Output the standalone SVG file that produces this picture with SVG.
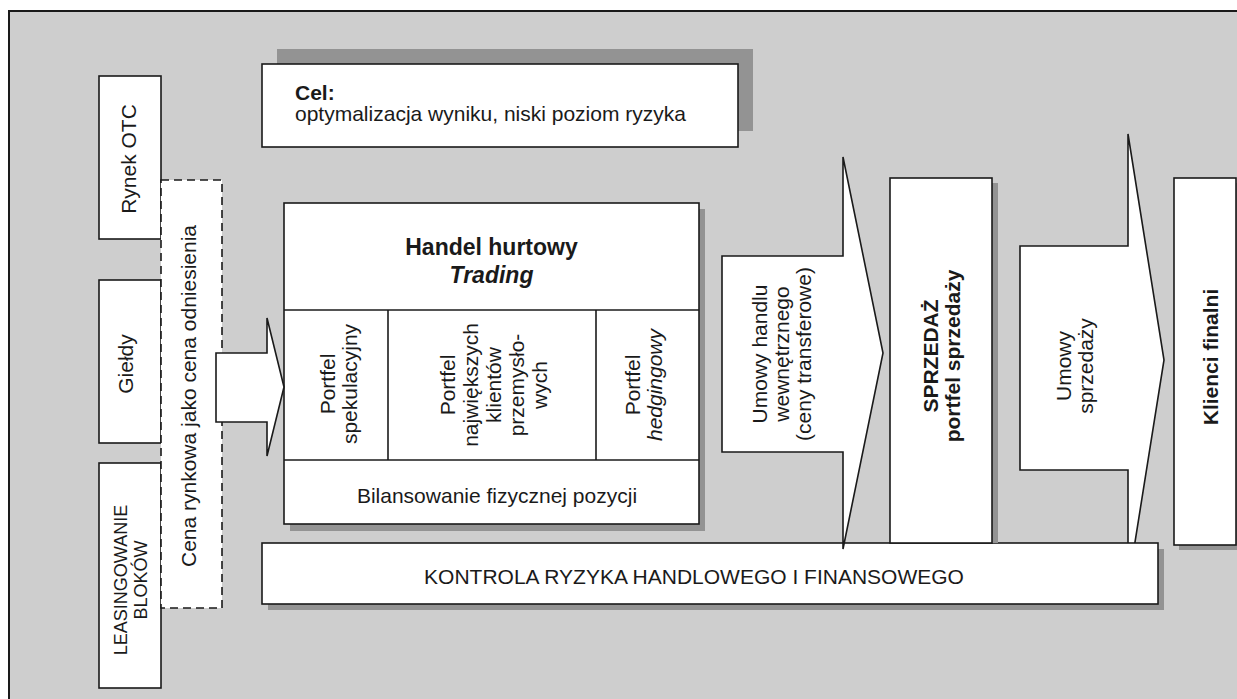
<svg xmlns="http://www.w3.org/2000/svg" width="1237" height="699" viewBox="0 0 1237 699">
<style>
.box{fill:#fff;stroke:#1a1a1a;stroke-width:1.6}
.sh{fill:#939393}
.dash{fill:#fff;stroke:#1a1a1a;stroke-width:1.6;stroke-dasharray:8 5}
.arr{fill:#fff;stroke:#1a1a1a;stroke-width:1.6;stroke-linejoin:miter}
text{font-family:"Liberation Sans",Arial,sans-serif;font-size:21px;fill:#1a1a1a}
.b{font-weight:bold}
.c{text-anchor:middle}
</style>
<rect x="9" y="11" width="1240" height="700" fill="#cecece" stroke="#1a1a1a" stroke-width="2"/>

<g id="rynek-otc">
<rect class="box" x="99" y="76" width="62" height="163"/>
<text class="c" transform="translate(136,159) rotate(-90)">Rynek OTC</text>
</g>
<g id="gieldy">
<rect class="box" x="99" y="280" width="62" height="163"/>
<text class="c" transform="translate(133,364) rotate(-90)">Giełdy</text>
</g>
<g id="leasing">
<rect class="box" x="99" y="463" width="62" height="225"/>
<text class="c" style="font-size:18px" transform="translate(127,580) rotate(-90)"><tspan x="0">LEASINGOWANIE</tspan><tspan x="0" dy="20">BLOKÓW</tspan></text>
</g>
<g id="cena">
<rect class="dash" x="161" y="180" width="61" height="428"/>
<text class="c" transform="translate(196,396) rotate(-90)">Cena rynkowa jako cena odniesienia</text>
</g>

<g id="cel">
<rect class="sh" x="277" y="49" width="476" height="82"/>
<rect class="box" x="262" y="64" width="476" height="83"/>
<text class="b" x="295" y="100">Cel:</text>
<text x="295" y="121">optymalizacja wyniku, niski poziom ryzyka</text>
</g>

<g id="handel">
<rect class="sh" x="290" y="209" width="415" height="322"/>
<rect class="box" x="284" y="203" width="415" height="321"/>
<line x1="284" y1="310" x2="699" y2="310" stroke="#1a1a1a" stroke-width="1.6"/>
<line x1="284" y1="460" x2="699" y2="460" stroke="#1a1a1a" stroke-width="1.6"/>
<line x1="388" y1="310" x2="388" y2="460" stroke="#1a1a1a" stroke-width="1.6"/>
<line x1="596" y1="310" x2="596" y2="460" stroke="#1a1a1a" stroke-width="1.6"/>
<text class="b c" style="font-size:23px" x="491.5" y="255">Handel hurtowy</text>
<text class="b c" style="font-size:23px;font-style:italic" x="491.5" y="283">Trading</text>
<text class="c" transform="translate(335,384) rotate(-90)"><tspan x="0">Portfel</tspan><tspan x="0" dy="22">spekulacyjny</tspan></text>
<text class="c" transform="translate(455,385) rotate(-90)"><tspan x="0">Portfel</tspan><tspan x="0" dy="23">największych</tspan><tspan x="0" dy="23">klientów</tspan><tspan x="0" dy="23">przemysło-</tspan><tspan x="0" dy="23">wych</tspan></text>
<text class="c" transform="translate(640,385) rotate(-90)"><tspan x="0">Portfel</tspan><tspan x="0" dy="22" font-style="italic">hedgingowy</tspan></text>
<text class="c" x="497" y="503">Bilansowanie fizycznej pozycji</text>
</g>

<g id="connectors-behind">
<polygon class="arr" points="1020,246 1128,246 1128,134 1164,360 1128,586 1128,470 1020,470"/>
<text class="c" transform="translate(1071,366) rotate(-90)"><tspan x="0">Umowy</tspan><tspan x="0" dy="22">sprzedaży</tspan></text>
</g>

<g id="kontrola">
<rect class="sh" x="268" y="549" width="896" height="61"/>
<rect class="box" x="262" y="543" width="896" height="61"/>
<text class="c" x="694" y="584">KONTROLA RYZYKA HANDLOWEGO I FINANSOWEGO</text>
</g>

<g id="sprzedaz">
<rect class="sh" x="896" y="183" width="102" height="360"/>
<rect class="box" x="890" y="178" width="102" height="365"/>
<text class="b c" transform="translate(938,356) rotate(-90)"><tspan x="0">SPRZEDAŻ</tspan><tspan x="0" dy="22">portfel sprzedaży</tspan></text>
</g>

<g id="klienci">
<rect class="sh" x="1179" y="183" width="62" height="367"/>
<rect class="box" x="1174" y="178" width="62" height="367"/>
<text class="b c" transform="translate(1218,357) rotate(-90)">Klienci finalni</text>
</g>

<g id="connectors">
<polygon class="arr" points="216,353 267,353 267,318 284,387 267,456 267,422 216,422"/>
<polygon class="arr" points="722,256 843,256 843,157 883,353 843,549 843,452 722,452"/>
<text class="c" transform="translate(767,354) rotate(-90)"><tspan x="0">Umowy handlu</tspan><tspan x="0" dy="22">wewnętrznego</tspan><tspan x="0" dy="22">(ceny transferowe)</tspan></text>
</g>
</svg>
